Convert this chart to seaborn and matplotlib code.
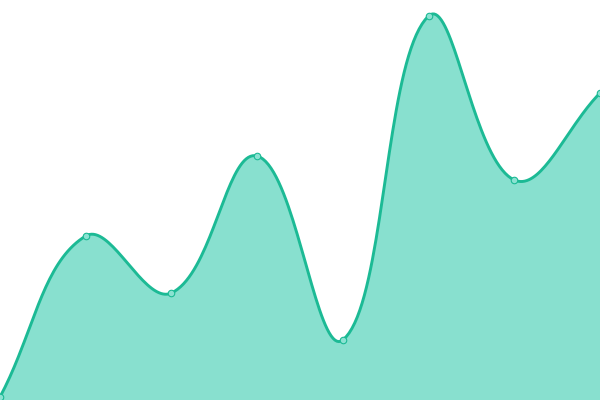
import numpy as np
import pandas as pd
import matplotlib
matplotlib.use('Agg')
import matplotlib.pyplot as plt
import seaborn as sns

# values (0 = bottom edge, 400 = top edge)
labels = ['p1', 'p2', 'p3', 'p4', 'p5', 'p6', 'p7', 'p8']
values = [3, 164, 107, 244, 60, 384, 220, 307]

line_color = '#1cba95'
fill_color = '#88e0cf'
point_fill = '#8be2d2'

W, H = 600, 400


def spline_curve(xs, ys, tension=0.4, steps=40):
    # chart.js style cardinal spline, computed in pixel space
    px = np.asarray(xs, float) * W / (len(xs) - 1)
    py = np.asarray(ys, float)
    n = len(px)
    cp_prev, cp_next = [], []
    for i in range(n):
        p0 = (px[max(i - 1, 0)], py[max(i - 1, 0)])
        p1 = (px[i], py[i])
        p2 = (px[min(i + 1, n - 1)], py[min(i + 1, n - 1)])
        d01 = np.hypot(p1[0] - p0[0], p1[1] - p0[1])
        d12 = np.hypot(p2[0] - p1[0], p2[1] - p1[1])
        tot = d01 + d12
        s01 = d01 / tot if tot else 0
        s12 = d12 / tot if tot else 0
        fa, fb = tension * s01, tension * s12
        cp_prev.append((p1[0] - fa * (p2[0] - p0[0]), p1[1] - fa * (p2[1] - p0[1])))
        cp_next.append((p1[0] + fb * (p2[0] - p0[0]), p1[1] + fb * (p2[1] - p0[1])))
    out_x, out_y = [], []
    t = np.linspace(0, 1, steps)
    for i in range(n - 1):
        a = np.array([px[i], py[i]])
        b = np.array(cp_next[i])
        c = np.array(cp_prev[i + 1])
        d = np.array([px[i + 1], py[i + 1]])
        seg = ((1 - t) ** 3)[:, None] * a + (3 * (1 - t) ** 2 * t)[:, None] * b \
            + (3 * (1 - t) * t ** 2)[:, None] * c + (t ** 3)[:, None] * d
        out_x.extend(seg[:, 0] * (n - 1) / W)
        out_y.extend(seg[:, 1])
    return np.array(out_x), np.array(out_y)


x_idx = np.arange(len(values))
sx, sy = spline_curve(x_idx, values)
curve = pd.DataFrame({'x': sx, 'y': sy})
pts = pd.DataFrame({'x': x_idx, 'y': values, 'label': labels})

sns.set_style('white')
fig = plt.figure(figsize=(6, 4), dpi=100)
ax = fig.add_axes([0, 0, 1, 1])

ax.fill_between(sx, sy, 0, color=fill_color, lw=0)
sns.lineplot(data=curve, x='x', y='y', ax=ax, color=line_color, lw=2.1, sort=False)
sns.scatterplot(data=pts, x='x', y='y', ax=ax, s=22, color=point_fill,
                edgecolor=line_color, linewidth=0.8, zorder=5)

ax.set_xlim(0, len(values) - 1)
ax.set_ylim(0, H)
ax.axis('off')

fig.savefig('out.png', dpi=100)
